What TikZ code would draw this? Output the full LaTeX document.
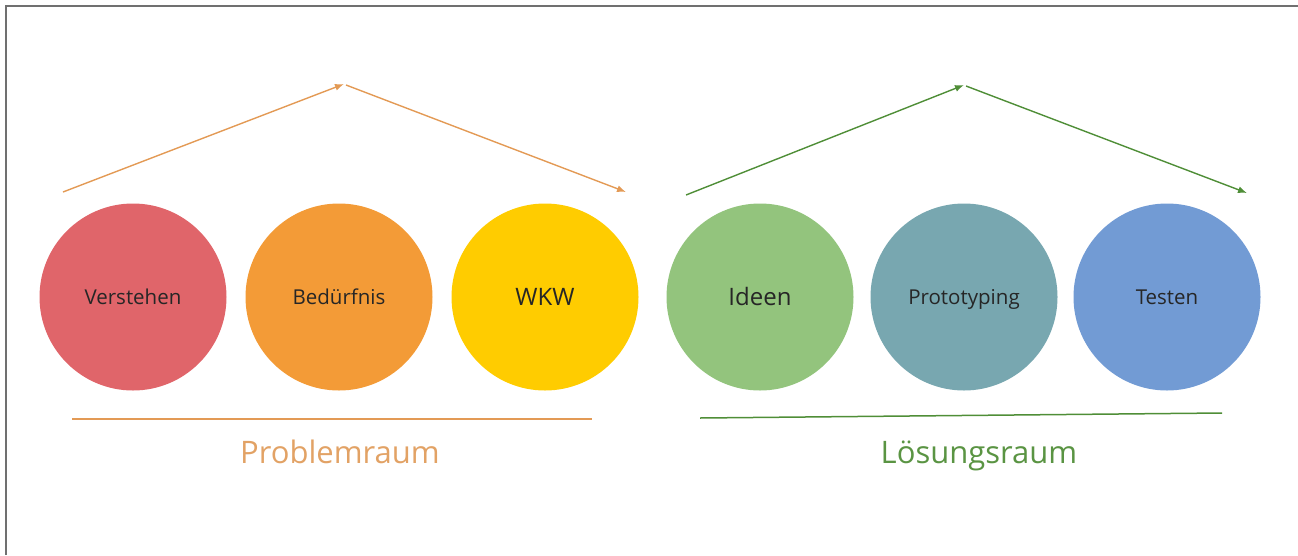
\documentclass[tikz,border=0pt]{standalone}
\usepackage{fontspec}
\setmainfont{Open Sans}
\usetikzlibrary{arrows.meta}
\definecolor{cRed}{HTML}{E0656A}
\definecolor{cOrange}{HTML}{F39B37}
\definecolor{cYellow}{HTML}{FFCC00}
\definecolor{cGreen}{HTML}{93C47D}
\definecolor{cTeal}{HTML}{78A7B0}
\definecolor{cBlue}{HTML}{729BD4}
\definecolor{lOrange}{HTML}{E39A55}
\definecolor{tOrange}{HTML}{E2A265}
\definecolor{lGreen}{HTML}{4F8E37}
\definecolor{tGreen}{HTML}{5A9443}
\definecolor{frameGray}{HTML}{707070}
\begin{document}
\begin{tikzpicture}[x=1pt,y=-1pt,
  bubble/.style={circle,minimum size=187pt,inner sep=0pt,text=black!85,font=\fontsize{20.5}{24}\selectfont,text height=17pt,text depth=3pt},
  big/.style={font=\fontsize{24}{28}\selectfont,text height=19pt,text depth=3pt},
  arrO/.style={draw=lOrange,line width=1.4pt,-{Latex[length=9pt,width=7pt]}},
  arrG/.style={draw=lGreen,line width=1.4pt,-{Latex[length=9pt,width=7pt]}},
  label/.style={font=\fontsize{31}{35}\selectfont,anchor=base}]
\useasboundingbox (0,0) rectangle (1298,555);
\draw[frameGray,line width=2pt] (6,555) -- (6,6) -- (1298,6);
\node[bubble,fill=cRed] (v) at (133,297) {Verstehen};
\node[bubble,fill=cOrange] (b) at (339,297) {Bedürfnis};
\node[bubble,fill=cYellow,big] (w) at (545,297) {WKW};
\node[bubble,fill=cGreen,big] (i) at (760,297) {Ideen};
\node[bubble,fill=cTeal] (p) at (964,297) {Prototyping};
\node[bubble,fill=cBlue] (t) at (1167,297) {Testen};
\coordinate (o1) at (63,192);
\coordinate (o2) at (344,84);
\coordinate (o3) at (346,85);
\coordinate (o4) at (626,192);
\draw[arrO] (o1) -- (o2);
\draw[arrO] (o3) -- (o4);
\coordinate (g1) at (686,195);
\coordinate (g2) at (964,85);
\coordinate (g3) at (966,86);
\coordinate (g4) at (1247,193);
\draw[arrG] (g1) -- (g2);
\draw[arrG] (g3) -- (g4);
\coordinate (po1) at (72,419);
\coordinate (po2) at (592,419);
\draw[lOrange,line width=1.5pt] (po1) -- (po2);
\coordinate (lo1) at (700,418);
\coordinate (lo2) at (1222,413);
\draw[lGreen,line width=1.5pt] (lo1) -- (lo2);
\node[label,text=tOrange] (pr) at (340,463) {Problemraum};
\node[label,text=tGreen] (lr) at (979,463) {Lösungsraum};
\end{tikzpicture}
\end{document}
